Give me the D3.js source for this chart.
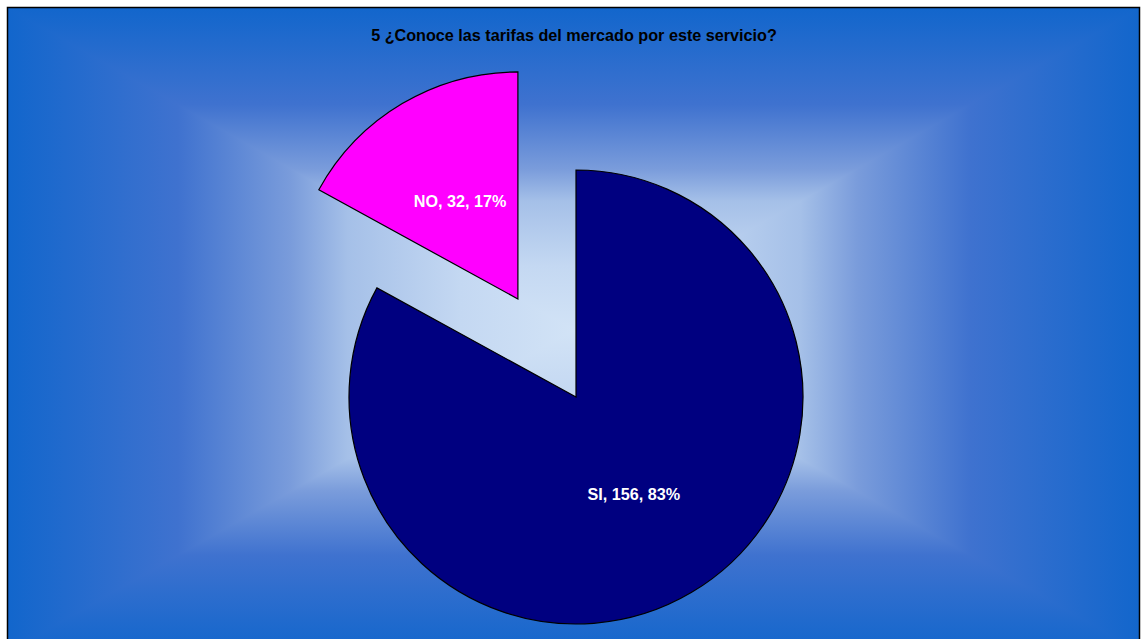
<!DOCTYPE html>
<html>
<head>
<meta charset="utf-8">
<script src="https://cdn.jsdelivr.net/npm/d3@7"></script>
<style>
html,body{margin:0;padding:0;background:#fff;}
svg{display:block;}
</style>
</head>
<body>
<svg id="chart" width="1141" height="639"></svg>
<script>
const categories = ["SI", "NO"];
const values = [156, 32];
const percents = ["83%", "17%"];
const colors = ["#000080", "#FF00FF"];
const exploded = [false, true];
const title = "5 ¿Conoce las tarifas del mercado por este servicio?";

const svg = d3.select("#chart");
const box = {x0: 8, y0: 8, x1: 1140, y1: 652};
const cx = (box.x0 + box.x1) / 2, cy = (box.y0 + box.y1) / 2;
const stops = [[0, "#1266CC"], [0.3, "#3F72CF"], [0.5, "#7A9CDB"], [0.6, "#A5C0E8"], [0.8, "#C4D8F2"], [1, "#D2E3F6"]];

const defs = svg.append("defs");
function grad(id, x1, y1, x2, y2) {
  const g = defs.append("linearGradient").attr("id", id)
    .attr("gradientUnits", "userSpaceOnUse")
    .attr("x1", x1).attr("y1", y1).attr("x2", x2).attr("y2", y2);
  stops.forEach(s => g.append("stop").attr("offset", s[0]).attr("stop-color", s[1]));
}
grad("gT", 0, box.y0, 0, cy);
grad("gB", 0, box.y1, 0, cy);
grad("gL", box.x0, 0, cx, 0);
grad("gR", box.x1, 0, cx, 0);

const bg = svg.append("g");
// left and right halves (full height), then top/bottom triangles over them
bg.append("rect").attr("x", box.x0).attr("y", box.y0)
  .attr("width", cx - box.x0 + 1).attr("height", box.y1 - box.y0).attr("fill", "url(#gL)");
bg.append("rect").attr("x", cx).attr("y", box.y0)
  .attr("width", box.x1 - cx).attr("height", box.y1 - box.y0).attr("fill", "url(#gR)");
const tri = [
  ["gT", [[box.x0, box.y0], [box.x1, box.y0], [cx, cy]]],
  ["gB", [[box.x0, box.y1], [box.x1, box.y1], [cx, cy]]]
];
tri.forEach(([id, pts]) => {
  bg.append("path")
    .attr("d", "M" + pts.map(p => p.join(",")).join("L") + "Z")
    .attr("fill", `url(#${id})`);
});
svg.append("rect")
  .attr("x", 7.5).attr("y", 7.5).attr("width", 1132).attr("height", 660)
  .attr("fill", "none").attr("stroke", "#000").attr("stroke-width", 1.5);

svg.append("text")
  .attr("x", 574).attr("y", 41)
  .attr("text-anchor", "middle")
  .attr("font-family", "Liberation Sans, Arial, sans-serif")
  .attr("font-weight", "bold").attr("font-size", 16.2)
  .attr("fill", "#000")
  .text(title);

const pcx = 576, pcy = 397, R = 227, explodeDist = 114;
const pie = d3.pie().sort(null).value(d => d.value).startAngle(0).endAngle(2 * Math.PI);
const data = categories.map((c, i) => ({cat: c, value: values[i], pct: percents[i], color: colors[i], ex: exploded[i]}));
const arcs = pie(data);
const arc = d3.arc().innerRadius(0).outerRadius(R);

const g = svg.append("g").attr("transform", `translate(${pcx},${pcy})`);
const slices = g.selectAll("g.slice").data(arcs).enter().append("g")
  .attr("transform", d => {
    if (!d.data.ex) return null;
    const a = (d.startAngle + d.endAngle) / 2;
    return `translate(${Math.sin(a) * explodeDist},${-Math.cos(a) * explodeDist})`;
  });
slices.append("path")
  .attr("d", arc)
  .attr("fill", d => d.data.color)
  .attr("stroke", "#000").attr("stroke-width", 1.2);
slices.append("text")
  .attr("transform", d => `translate(${arc.centroid(d)})`)
  .attr("text-anchor", "middle").attr("dy", "0.35em")
  .attr("font-family", "Liberation Sans, Arial, sans-serif")
  .attr("font-weight", "bold").attr("font-size", 16.2)
  .attr("fill", "#fff")
  .text(d => `${d.data.cat}, ${d.data.value}, ${d.data.pct}`);
</script>
</body>
</html>
